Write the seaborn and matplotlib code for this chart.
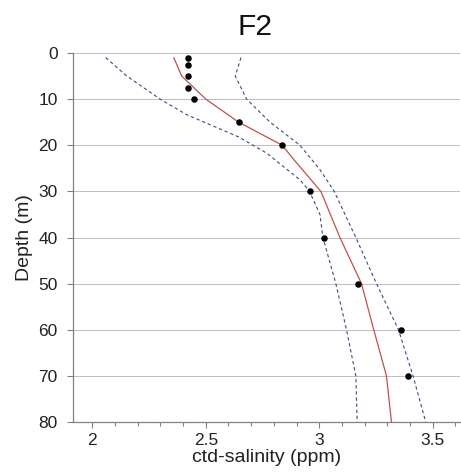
import matplotlib
matplotlib.use("Agg")
import matplotlib.pyplot as plt
import seaborn as sns
import numpy as np
import pandas as pd
from matplotlib.ticker import MultipleLocator

# Observed points
obs_depth = [1, 2.5, 5, 7.5, 10, 15, 20, 30, 40, 50, 60, 70]
obs_sal = [2.421, 2.421, 2.421, 2.421, 2.446, 2.645, 2.837, 2.957, 3.023, 3.172, 3.358, 3.39]

# Fitted (red) line
fit_depth = [1, 5, 10, 15, 20, 23, 30, 40, 50, 60, 70, 80]
fit_sal = [2.359, 2.394, 2.50, 2.645, 2.837, 2.886, 3.007, 3.091, 3.186, 3.24, 3.296, 3.318]

# Lower dashed bound
lo_depth = [1, 5, 10, 13.4, 18.2, 21.7, 27.5, 30, 35, 40, 50, 60, 70, 80]
lo_sal = [2.059, 2.152, 2.299, 2.417, 2.645, 2.768, 2.915, 2.957, 3.003, 3.016, 3.073, 3.12, 3.161, 3.167]

# Upper dashed bound
hi_depth = [1, 5, 10, 15, 20, 25.3, 30, 40, 50, 60, 70, 80]
hi_sal = [2.655, 2.63, 2.68, 2.783, 2.915, 3.003, 3.066, 3.161, 3.252, 3.349, 3.413, 3.469]

x_ticks = [2, 2.5, 3, 3.5]
y_ticks = [0, 10, 20, 30, 40, 50, 60, 70, 80]

sns.set_style("white")
plt.rcParams['font.family'] = ['Liberation Sans', 'DejaVu Sans']

fig = plt.figure(figsize=(4.61, 4.73), dpi=100)
ax = fig.add_axes([73/461, 1-422/473, (460-73)/461, (422-53)/473])

sns.lineplot(x=lo_sal, y=lo_depth, sort=False, ax=ax, color="#3a4a8a",
             linewidth=0.8, linestyle=(0, (3, 2.5)))
sns.lineplot(x=hi_sal, y=hi_depth, sort=False, ax=ax, color="#3a4a8a",
             linewidth=0.8, linestyle=(0, (3, 2.5)))
sns.lineplot(x=fit_sal, y=fit_depth, sort=False, ax=ax, color="#c0504d",
             linewidth=0.9)
sns.scatterplot(x=obs_sal, y=obs_depth, ax=ax, color="black", s=22,
                edgecolor="black", linewidth=0, zorder=5)

ax.set_xlim(1.915, 3.62)
ax.set_ylim(80, 0)
ax.set_xticks(x_ticks)
ax.set_xticklabels([f"{t:g}" for t in x_ticks])
ax.xaxis.set_minor_locator(MultipleLocator(0.1))
ax.set_yticks(y_ticks)
ax.set_yticklabels([str(t) for t in y_ticks])

for y in y_ticks:
    ax.axhline(y, color="#bdbdbd", linewidth=0.7, zorder=0)

for s in ["top", "right"]:
    ax.spines[s].set_visible(False)
for s in ["left", "bottom"]:
    ax.spines[s].set_color("#808080")
    ax.spines[s].set_linewidth(0.9)

ax.tick_params(axis="both", which="both", direction="out", colors="#808080",
               labelcolor="#222222", labelsize=12.5, bottom=True, left=True)
ax.tick_params(axis="x", which="major", length=4, width=0.8, pad=4)
ax.tick_params(axis="x", which="minor", length=3, width=0.8)
ax.tick_params(axis="y", which="major", length=4, width=0.8, pad=7)
ax.tick_params(axis="y", which="minor", left=False)

ax.set_xlabel("ctd-salinity (ppm)", fontsize=14, color="#222222", labelpad=0.5)
ax.set_ylabel("Depth (m)", fontsize=14, color="#222222", labelpad=4)

fig.text(255/461, 1-27/473, "F2", ha="center", va="center", fontsize=21.5,
         color="#111111")

fig.savefig("out.png", dpi=100)
